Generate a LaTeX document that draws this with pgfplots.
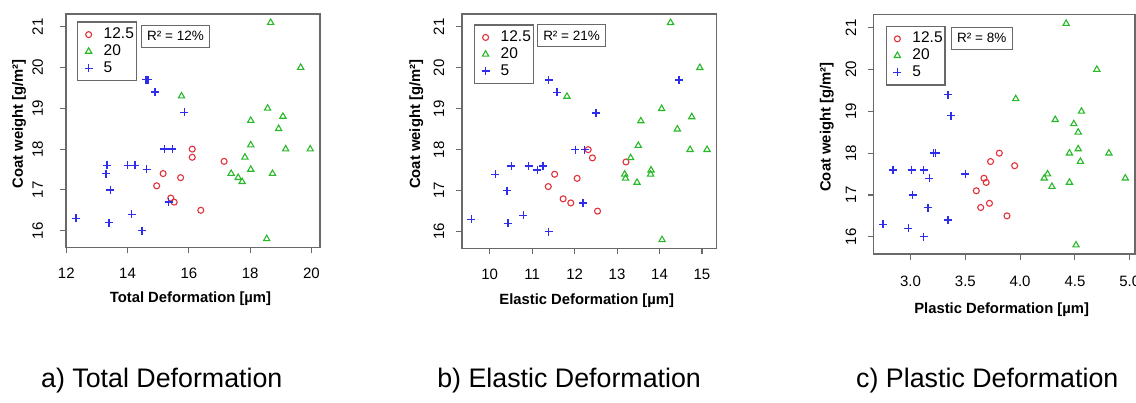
\documentclass[border=0pt]{standalone}
\usepackage{pgfplots}
\pgfplotsset{compat=1.18}
\usepackage{fontspec}
\setmainfont{Liberation Sans}
\definecolor{rred}{RGB}{225,50,60}
\definecolor{rgreen}{RGB}{40,185,40}
\definecolor{rblue}{RGB}{45,45,235}
\definecolor{boxgray}{RGB}{105,105,105}
\pgfplotsset{
  rstyle/.style={
    scale only axis,
    axis line style={boxgray, line width=1.3pt},
    tick style={boxgray, line width=1.1pt},
    tick align=outside, major tick length=6pt,
    tick pos=left,
    ymin=15.588, ymax=21.312,
    ytick={16,17,18,19,20,21},
    /pgf/number format/assume math mode=true,
    tick label style={font=\fontsize{15}{15}\selectfont},
    label style={font=\bfseries\fontsize{14.8}{15}\selectfont},
    legend cell align=left,
    legend image code/.code={\draw[##1] plot coordinates {(0pt,0pt)}; \path (-8.3pt,0pt) (13.9pt,0pt);},
    legend style={anchor=north west, draw=boxgray, line width=1.3pt, fill=white,
      font=\fontsize{15.5}{16}\selectfont,
      inner xsep=2pt, inner ysep=5pt, row sep=1.8pt,
      nodes={inner sep=0.5pt, text height=11pt, text depth=3pt}},
  },
  pred/.style={only marks, mark=o, mark size=3pt, color=rred, mark options={draw=rred, line width=1.1pt}, line width=1.1pt},
  pgreen/.style={only marks, mark=triangle, mark size=3.6pt, color=rgreen, mark options={draw=rgreen, line width=1.1pt}, line width=1.1pt},
  pblue/.style={only marks, mark=+, mark size=4pt, color=rblue, mark options={draw=rblue, line width=1.4pt}, line width=1.4pt},
}
\newcommand{\rbox}[3]{\node[draw=boxgray, line width=1.1pt, anchor=north west, inner xsep=6pt, minimum height=22pt, font=\fontsize{13.5}{14}\selectfont] at (rel axis cs:#1,#2) {#3};}
\begin{document}
\begin{tikzpicture}[x=1pt,y=1pt]
\path[use as bounding box] (0,0) rectangle (1136,403);
% ---------- a) Total
\begin{axis}[rstyle, at={(66pt,155.5pt)}, anchor=south west, width=254pt, height=233.5pt,
  xmin=11.99, xmax=20.28, xtick={12,14,16,18,20},
  xticklabel style={anchor=base, inner sep=0pt, yshift=-25pt},
  yticklabel style={xshift=-17pt, rotate=90, anchor=base, inner sep=0pt},
  xlabel={Total Deformation [µm]}, ylabel={Coat weight [g/m²]},
  xlabel style={at={(axis description cs:0.49,0)}, anchor=base, yshift=-55pt},
  ylabel style={at={(axis description cs:0,0.53)}, anchor=base, yshift=43pt},
  legend style={at={(0.0433,0.968)}}]
\addplot[pred] coordinates {(16.11,18.0)(16.11,17.8)(17.15,17.7)(15.16,17.4)(15.73,17.3)(14.95,17.1)(15.41,16.8)(15.52,16.7)(16.39,16.5)};
\addplot[pgreen] coordinates {(18.67,21.1)(19.65,20.0)(15.76,19.3)(18.57,19.0)(19.07,18.8)(18.02,18.7)(18.93,18.5)(18.02,18.1)(19.16,18.0)(19.96,18.0)(17.83,17.8)(18.02,17.5)(17.38,17.4)(18.73,17.4)(17.61,17.3)(17.74,17.2)(18.54,15.8)};
\addplot[pblue] coordinates {(12.31,16.3)(13.33,17.6)(13.3,17.4)(13.44,17.0)(13.39,16.2)(14.0,17.6)(14.24,17.6)(14.13,16.4)(14.47,16.0)(14.62,17.5)(14.6,19.7)(14.66,19.7)(14.89,19.4)(15.2,18.0)(15.46,18.0)(15.85,18.9)(15.34,16.7)};
\legend{12.5,20,5}
\rbox{0.294}{0.954}{R² = 12\%}
\end{axis}
% ---------- b) Elastic
\begin{axis}[rstyle, at={(462pt,154.5pt)}, anchor=south west, width=254.5pt, height=234.5pt,
  xmin=9.348, xmax=15.342, xtick={10,11,12,13,14,15},
  xticklabel style={anchor=base, inner sep=0pt, yshift=-25.4pt},
  yticklabel style={xshift=-12pt, rotate=90, anchor=base, inner sep=0pt},
  xlabel={Elastic Deformation [µm]}, ylabel={Coat weight [g/m²]},
  xlabel style={at={(axis description cs:0.49,0)}, anchor=base, yshift=-55.8pt},
  ylabel style={at={(axis description cs:0,0.53)}, anchor=base, yshift=42pt},
  legend style={at={(0.047,0.956)}}]
\addplot[pred] coordinates {(12.32,18.0)(12.42,17.8)(13.21,17.7)(11.53,17.4)(12.06,17.3)(11.38,17.1)(11.73,16.8)(11.91,16.7)(12.54,16.5)};
\addplot[pgreen] coordinates {(14.26,21.1)(14.95,20.0)(11.82,19.3)(14.05,19.0)(14.76,18.8)(13.56,18.7)(14.42,18.5)(13.5,18.1)(14.72,18.0)(15.12,18.0)(13.32,17.8)(13.8,17.5)(13.79,17.4)(13.18,17.4)(13.2,17.3)(13.47,17.2)(14.06,15.8)};
\addplot[pblue] coordinates {(11.39,19.7)(14.46,19.7)(11.59,19.4)(12.5,18.9)(12.02,18.0)(12.24,18.0)(10.51,17.6)(10.92,17.6)(11.26,17.6)(11.12,17.5)(10.13,17.4)(10.41,17.0)(12.2,16.7)(10.79,16.4)(9.57,16.3)(10.43,16.2)(11.39,16.0)};
\legend{12.5,20,5}
\rbox{0.2935}{0.9575}{R² = 21\%}
\end{axis}
% ---------- c) Plastic
\begin{axis}[rstyle, at={(873.5pt,149pt)}, anchor=south west, width=261.5pt, height=239.3pt,
  xmin=2.6616, xmax=5.0484, xtick={3,3.5,4,4.5,5},
  xticklabel style={anchor=base, inner sep=0pt, yshift=-26.4pt, /pgf/number format/.cd, fixed, fixed zerofill, precision=1},
  yticklabel style={xshift=-11.5pt, rotate=90, anchor=base, inner sep=0pt},
  xlabel={Plastic Deformation [µm]}, ylabel={Coat weight [g/m²]},
  xlabel style={at={(axis description cs:0.49,0)}, anchor=base, yshift=-59.6pt},
  ylabel style={at={(axis description cs:0,0.53)}, anchor=base, yshift=43pt},
  legend style={at={(0.0467,0.954)}}]
\addplot[pred] coordinates {(3.81,18.0)(3.73,17.8)(3.95,17.7)(3.67,17.4)(3.69,17.3)(3.60,17.1)(3.72,16.8)(3.64,16.7)(3.88,16.5)};
\addplot[pgreen] coordinates {(4.42,21.1)(4.70,20.0)(3.96,19.3)(4.56,19.0)(4.32,18.8)(4.49,18.7)(4.53,18.5)(4.53,18.1)(4.45,18.0)(4.81,18.0)(4.55,17.8)(4.25,17.5)(4.22,17.4)(4.96,17.4)(4.45,17.3)(4.29,17.2)(4.51,15.8)};
\addplot[pblue] coordinates {(3.25,19.7)(3.05,19.7)(3.34,19.4)(3.37,18.9)(3.21,18.0)(3.23,18.0)(2.84,17.6)(3.01,17.6)(3.12,17.6)(3.17,17.4)(3.50,17.5)(3.02,17.0)(3.16,16.7)(3.34,16.4)(2.75,16.3)(2.98,16.2)(3.12,16.0)};
\legend{12.5,20,5}
\rbox{0.295}{0.95}{R² = 8\%}
\end{axis}
% ---------- captions
\node[font=\fontsize{26.8}{28}\selectfont, anchor=base] at (161.8,15) {a) Total Deformation};
\node[font=\fontsize{26.8}{28}\selectfont, anchor=base] at (569.1,15) {b) Elastic Deformation};
\node[font=\fontsize{26.8}{28}\selectfont, anchor=base] at (987.3,15) {c) Plastic Deformation};
\end{tikzpicture}
\end{document}
